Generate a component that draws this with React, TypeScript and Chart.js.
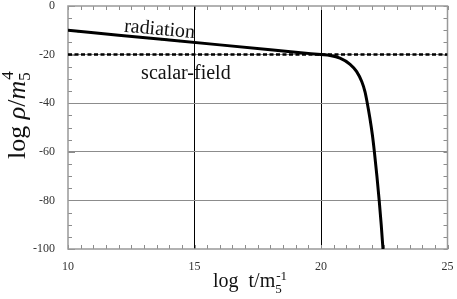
import React, { useEffect, useRef } from "react";
import { Chart, registerables } from "chart.js";

Chart.register(...registerables);

// ---- data ----
const radiationT = [10, 12, 14, 16, 18, 19, 19.6, 20, 20.36, 20.75, 21.15, 21.41, 21.61, 21.74, 21.83, 21.93, 22.03, 22.11, 22.21, 22.3, 22.38, 22.45];
const radiationRho = [-10, -12, -14, -16, -18, -19, -19.6, -20, -20.4, -21.5, -24, -27, -31.1, -35.3, -40, -46, -53, -60, -70, -80, -90, -100];
const scalarT = [10, 25];
const scalarRho = [-20, -20];
const markT = [10.4, 13.2, 13.7, 13.9, 14.4];
const markRho = [-10.4, -13.2, -13.7, -13.9, -14.4];
const xTickValues = [10, 15, 20, 25];
const yTickValues = [0, -20, -40, -60, -80, -100];
const xMinorStep = 0.5;
const yMinorStep = 5;

const SERIF = "'Liberation Serif', 'Times New Roman', 'DejaVu Serif', serif";

const decorPlugin = {
  id: "decor",
  beforeDatasetsDraw(chart: any) {
    const { ctx, chartArea: a, scales } = chart;
    const xs = scales.x;
    const ys = scales.y;
    ctx.save();
    ctx.strokeStyle = "#8c8c8c";
    ctx.lineWidth = 1;
    for (let v = 10; v <= 25 + 1e-9; v += xMinorStep) {
      const px = Math.round(xs.getPixelForValue(v)) + 0.5;
      ctx.beginPath();
      ctx.moveTo(px, a.bottom);
      ctx.lineTo(px, a.bottom - 4);
      ctx.moveTo(px, a.top);
      ctx.lineTo(px, a.top + 4);
      ctx.stroke();
    }
    for (let v = -100; v <= 0 + 1e-9; v += yMinorStep) {
      const py = Math.round(ys.getPixelForValue(v)) + 0.5;
      const major = Math.abs(v % 20) < 1e-9;
      const len = major ? 7 : 4;
      ctx.beginPath();
      ctx.moveTo(a.left, py);
      ctx.lineTo(a.left + len, py);
      ctx.moveTo(a.right, py);
      ctx.lineTo(a.right - 4, py);
      ctx.stroke();
    }
    ctx.lineWidth = 1.5;
    ctx.strokeStyle = "#999";
    ctx.strokeRect(a.left, a.top, a.right - a.left, a.bottom - a.top);
    ctx.restore();
  },
  afterDraw(chart: any) {
    const { ctx, scales } = chart;
    const xs = scales.x;
    const ys = scales.y;
    ctx.save();
    ctx.fillStyle = "#111";
    ctx.textBaseline = "alphabetic";
    // radiation label (tilted along the line)
    ctx.save();
    ctx.translate(xs.getPixelForValue(13.6), ys.getPixelForValue(-11.9));
    ctx.rotate(0.09);
    ctx.font = `20px ${SERIF}`;
    ctx.textAlign = "center";
    ctx.fillText("radiation", 0, 0);
    ctx.restore();
    // scalar-field label
    ctx.font = `20px ${SERIF}`;
    ctx.textAlign = "left";
    ctx.fillText("scalar-field", xs.getPixelForValue(12.89), ys.getPixelForValue(-30));

    // x title: log  t/m_5^-1
    let x = 213;
    const by = 287;
    ctx.font = `20px ${SERIF}`;
    const main = "log  t/m";
    ctx.fillText(main, x, by);
    x += ctx.measureText(main).width;
    ctx.font = `13px ${SERIF}`;
    ctx.fillText("5", x, by + 6);
    ctx.fillText("-1", x + 1, by - 7);

    // y title: log ρ/m_5^4 rotated
    ctx.save();
    ctx.translate(25, 159);
    ctx.rotate(-Math.PI / 2);
    let t = 0;
    ctx.font = `26px ${SERIF}`;
    ctx.fillText("log ", t, 0);
    t += ctx.measureText("log ").width;
    ctx.font = `italic 26px ${SERIF}`;
    ctx.fillText("ρ", t, 0);
    t += ctx.measureText("ρ").width;
    ctx.font = `26px ${SERIF}`;
    ctx.fillText("/", t, 0);
    t += ctx.measureText("/").width;
    ctx.font = `italic 26px ${SERIF}`;
    ctx.fillText("m", t, 0);
    t += ctx.measureText("m").width;
    ctx.font = `17px ${SERIF}`;
    ctx.fillText("5", t, 5);
    ctx.fillText("4", t + 1, -12);
    ctx.restore();
    ctx.restore();
  },
};

export default function App() {
  const ref = useRef<HTMLCanvasElement | null>(null);
  useEffect(() => {
    if (!ref.current) return;
    const chart = new Chart(ref.current, {
      type: "scatter",
      data: {
        datasets: [
          {
            label: "scalar-field",
            data: scalarT.map((t, i) => ({ x: t, y: scalarRho[i] })),
            showLine: true,
            borderColor: "#000",
            borderWidth: 2.5,
            borderDash: [4, 2.5],
            pointRadius: 0,
          },
          {
            label: "radiation",
            data: radiationT.map((t, i) => ({ x: t, y: radiationRho[i] })),
            showLine: true,
            borderColor: "#000",
            borderWidth: 3,
            cubicInterpolationMode: "monotone",
            pointRadius: 0,
          },
          {
            label: "marks",
            data: markT.map((t, i) => ({ x: t, y: markRho[i] })),
            showLine: false,
            pointRadius: 1.2,
            pointBorderWidth: 0,
            pointBackgroundColor: "#2ecc2e",
          },
        ],
      },
      options: {
        animation: false,
        responsive: false,
        devicePixelRatio: 1,
        layout: { autoPadding: false, padding: { top: 6, right: 9.5, left: 0, bottom: 0 } },
        plugins: { legend: { display: false }, tooltip: { enabled: false } },
        scales: {
          x: {
            type: "linear",
            min: 10,
            max: 25,
            afterFit: (s: any) => { s.height = 50; s.paddingLeft = 0; s.paddingRight = 0; },
            afterBuildTicks: (s: any) => { s.ticks = xTickValues.map((v) => ({ value: v })); },
            border: { display: false },
            grid: {
              drawTicks: false,
              lineWidth: 1,
              color: (c: any) => (c.tick && (c.tick.value === 15 || c.tick.value === 20) ? "#000" : "rgba(0,0,0,0)"),
            },
            ticks: {
              padding: 11,
              color: "#333",
              font: { family: SERIF, size: 12 },
              maxRotation: 0,
            },
          },
          y: {
            type: "linear",
            min: -100,
            max: 0,
            afterFit: (s: any) => { s.width = 68; s.paddingTop = 0; s.paddingBottom = 0; },
            afterBuildTicks: (s: any) => { s.ticks = yTickValues.map((v) => ({ value: v })); },
            border: { display: false },
            grid: {
              drawTicks: false,
              lineWidth: 1,
              color: (c: any) => (c.tick && c.tick.value < 0 && c.tick.value > -100 ? "#8c8c8c" : "rgba(0,0,0,0)"),
            },
            ticks: {
              padding: 13,
              color: "#333",
              font: { family: SERIF, size: 12 },
            },
          },
        },
      },
      plugins: [decorPlugin],
    } as any);
    return () => chart.destroy();
  }, []);
  return (
    <div style={{ position: "absolute", left: 0, top: 0, width: 457, height: 299, background: "#fff" }}>
      <canvas ref={ref} width={457} height={299} style={{ width: 457, height: 299, display: "block" }} />
    </div>
  );
}
